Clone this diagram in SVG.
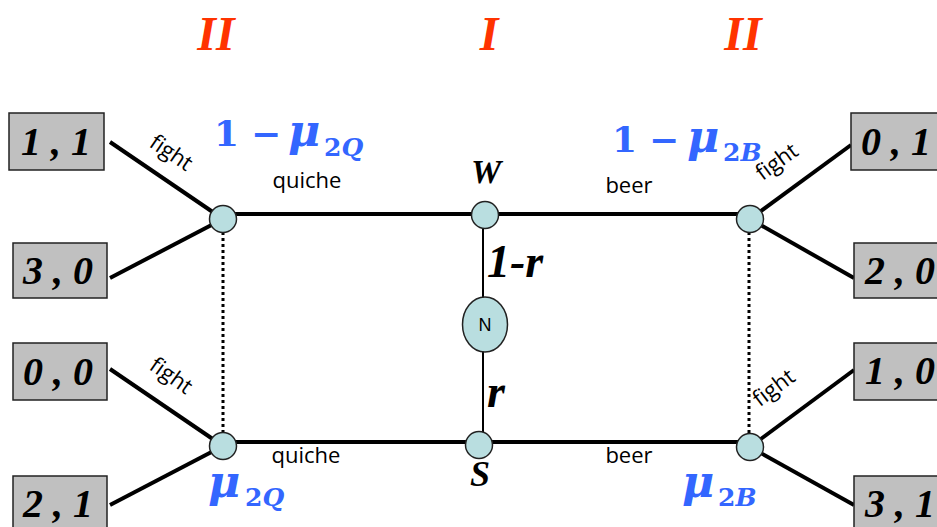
<svg xmlns="http://www.w3.org/2000/svg" width="937" height="527" viewBox="0 0 937 527">
<style>
.edge{stroke:#000;stroke-width:4;fill:none;stroke-linecap:butt}
.thin{stroke:#000;stroke-width:2;fill:none}
.dot{stroke:#000;stroke-width:3;fill:none;stroke-dasharray:3 3}
.node{fill:#B9DEE0;stroke:#222;stroke-width:1.5}
.box{fill:#C0C0C0;stroke:#222;stroke-width:1.5}
.pay{font-family:"Liberation Serif",serif;font-weight:bold;font-style:italic;font-size:40px;text-anchor:middle;fill:#000}
.player{font-family:"Liberation Serif",serif;font-weight:bold;font-style:italic;font-size:48px;text-anchor:middle;fill:#FF3300}
.lbl{font-family:"Open Sans",sans-serif;font-size:22px;text-anchor:middle;fill:#000}
.fight{font-family:"Open Sans",sans-serif;font-size:22px;text-anchor:middle;fill:#000}
.bi{font-family:"Liberation Serif",serif;font-weight:bold;font-style:italic;fill:#000}
.mu{font-family:"DejaVu Serif",serif;font-weight:bold;fill:#3366FF;font-size:36px}
.greek{font-style:italic;font-size:44px}
.sub{font-size:25px}
</style>

<g id="players">
<text class="player" x="216" y="50">II</text>
<text class="player" x="489" y="50">I</text>
<text class="player" x="743" y="50">II</text>
</g>

<g id="connectors">
<line class="edge" x1="223" y1="214" x2="750" y2="214"/>
<line class="edge" x1="223" y1="442" x2="750" y2="442"/>
<line class="edge" x1="110" y1="142" x2="223" y2="219"/>
<line class="edge" x1="110" y1="278" x2="223" y2="219"/>
<line class="edge" x1="110" y1="369" x2="223" y2="446"/>
<line class="edge" x1="110" y1="505" x2="223" y2="446"/>
<line class="edge" x1="851" y1="145" x2="750" y2="219"/>
<line class="edge" x1="854" y1="278" x2="750" y2="219"/>
<line class="edge" x1="854" y1="370" x2="750" y2="447"/>
<line class="edge" x1="854" y1="505" x2="750" y2="447"/>
<line class="thin" x1="483" y1="215" x2="483" y2="445"/>
<line class="dot" x1="223" y1="232" x2="223" y2="433"/>
<line class="dot" x1="749" y1="232" x2="749" y2="434"/>
</g>

<g id="payoff-1-1"><rect class="box" x="9" y="113" width="95" height="57"/><text class="pay" x="56" y="155">1 , 1</text></g>
<g id="payoff-3-0"><rect class="box" x="13" y="243" width="94" height="55"/><text class="pay" x="58" y="284">3 , 0</text></g>
<g id="payoff-0-0"><rect class="box" x="13" y="343" width="94" height="57"/><text class="pay" x="58" y="385">0 , 0</text></g>
<g id="payoff-2-1"><rect class="box" x="13" y="476" width="94" height="57"/><text class="pay" x="58" y="517">2 , 1</text></g>
<g id="payoff-0-1"><rect class="box" x="851" y="113" width="95" height="57"/><text class="pay" x="896" y="155">0 , 1</text></g>
<g id="payoff-2-0"><rect class="box" x="854" y="243" width="95" height="55"/><text class="pay" x="900" y="284">2 , 0</text></g>
<g id="payoff-1-0"><rect class="box" x="854" y="343" width="95" height="57"/><text class="pay" x="900" y="384">1 , 0</text></g>
<g id="payoff-3-1"><rect class="box" x="854" y="476" width="95" height="57"/><text class="pay" x="900" y="517">3 , 1</text></g>

<g id="node-IIQ-W"><circle class="node" cx="223" cy="219" r="13.5"/></g>
<g id="node-IIQ-S"><circle class="node" cx="223" cy="446" r="13.5"/></g>
<g id="node-IIB-W"><circle class="node" cx="750" cy="219" r="13.5"/></g>
<g id="node-IIB-S"><circle class="node" cx="750" cy="447" r="13.5"/></g>
<g id="node-W"><circle class="node" cx="485" cy="215" r="13.5"/><text class="bi" x="486" y="183" font-size="34" text-anchor="middle">W</text></g>
<g id="node-S"><circle class="node" cx="479" cy="445" r="13.5"/><text class="bi" x="480" y="486" font-size="36" text-anchor="middle">S</text></g>
<g id="node-N"><ellipse class="node" cx="485" cy="324.5" rx="22.5" ry="27.5"/><text x="485" y="331" font-family="Liberation Sans, sans-serif" font-size="18" text-anchor="middle">N</text></g>

<g id="edge-labels">
<text class="bi" x="487" y="277" font-size="46">1-r</text>
<text class="bi" x="487" y="407" font-size="46">r</text>
<text class="lbl" x="307" y="188">quiche</text>
<text class="lbl" x="306" y="463">quiche</text>
<text class="lbl" x="629" y="193">beer</text>
<text class="lbl" x="629" y="463">beer</text>
<text class="fight" transform="translate(171,153) rotate(34)" y="7">fight</text>
<text class="fight" transform="translate(171,376) rotate(35)" y="7">fight</text>
<text class="fight" transform="translate(777,162) rotate(-36)" y="7">fight</text>
<text class="fight" transform="translate(774,388) rotate(-37)" y="7">fight</text>
</g>

<g id="beliefs">
<text class="mu" y="146"><tspan x="214">1</tspan><tspan x="251">−</tspan><tspan x="288" class="greek">μ</tspan><tspan x="324" y="156" class="sub">2<tspan font-style="italic">Q</tspan></tspan></text>
<text class="mu" y="152"><tspan x="612">1</tspan><tspan x="649">−</tspan><tspan x="687" class="greek">μ</tspan><tspan x="723" y="161" class="sub">2<tspan font-style="italic">B</tspan></tspan></text>
<text class="mu" y="497"><tspan x="208" class="greek">μ</tspan><tspan x="245" y="506" class="sub">2<tspan font-style="italic">Q</tspan></tspan></text>
<text class="mu" y="497"><tspan x="682" class="greek">μ</tspan><tspan x="718" y="506" class="sub">2<tspan font-style="italic">B</tspan></tspan></text>
</g>
</svg>
